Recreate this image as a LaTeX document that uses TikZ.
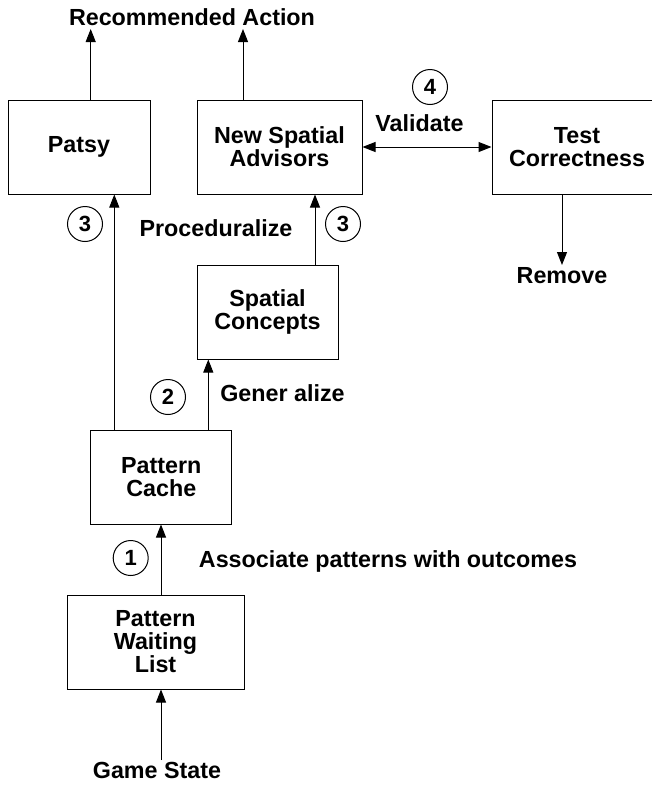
\documentclass[tikz,border=0pt]{standalone}
\usepackage{fontspec}
\setmainfont{Liberation Sans}
\usetikzlibrary{arrows.meta}
\begin{document}
\begin{tikzpicture}[x=1pt,y=-1pt,
  every node/.style={font=\bfseries\fontsize{23.3}{23}\selectfont, inner sep=0pt},
  box/.style={draw, line width=1pt, align=center},
  num/.style={draw, circle, line width=1pt, minimum size=35pt, font=\bfseries\fontsize{22}{22}\selectfont},
  lbl/.style={anchor=base},
  arr/.style={line width=1pt, -{Triangle[length=13pt,width=10pt]}},
  darr/.style={line width=1pt, {Triangle[length=13pt,width=10pt]}-{Triangle[length=13pt,width=10pt]}}
]
\useasboundingbox (0,0) rectangle (652,785);
% boxes
\node[box, minimum width=142pt, minimum height=94pt] (patsy) at (79,147) {Patsy};
\node[box, minimum width=165pt, minimum height=94pt] (nsa) at (279.5,147) {New Spatial\\Advisors};
\node[box, minimum width=170pt, minimum height=94pt] (tc) at (577,147) {Test\\Correctness};
\node[box, minimum width=141pt, minimum height=94pt] (sc) at (267.5,312) {Spatial\\Concepts};
\node[box, minimum width=141pt, minimum height=94pt] (pc) at (161.3,477) {Pattern\\Cache};
\node[box, minimum width=177pt, minimum height=94pt] (pwl) at (155.5,642) {Pattern\\Waiting\\List};
% free labels
\node[lbl] (rec) at (192,25) {Recommended Action};
\node[lbl] (remove) at (562,283) {Remove};
\node[lbl] (game) at (157,778) {Game State};
\node[lbl] (validate) at (419.5,131) {Validate};
\node[lbl] (proc) at (216,236) {Proceduralize};
\node[lbl] (gen) at (282.5,401.5) {Gener alize};
\node[lbl] (assoc) at (388,567) {Associate patterns with outcomes};
% numbered circles
\node[num] (c4) at (430,87) {4};
\node[num] (c3a) at (85,224) {3};
\node[num] (c3b) at (343,224) {3};
\node[num] (c2) at (168,397) {2};
\node[num] (c1) at (130.7,558) {1};
% coordinates for free ends
\coordinate (recA) at (90.7,29);
\coordinate (recB) at (243,29);
\coordinate (remEnd) at (562,265);
\coordinate (gameStart) at (161,760);
% connectors
\draw[arr] (patsy.north -| recA) -- (recA);
\draw[arr] (nsa.north -| recB) -- (recB);
\draw[darr] (nsa.east) -- (tc.west);
\draw[arr] (tc.south -| remEnd) -- (remEnd);
\draw[arr] (pc.north -| 114.3,0) -- (patsy.south -| 114.3,0);
\draw[arr] (sc.north -| 315,0) -- (nsa.south -| 315,0);
\draw[arr] (pc.north -| 208.3,0) -- (sc.south -| 208.3,0);
\draw[arr] (pwl.north -| 161,0) -- (pc.south -| 161,0);
\draw[arr] (gameStart) -- (pwl.south -| gameStart);
\end{tikzpicture}
\end{document}
